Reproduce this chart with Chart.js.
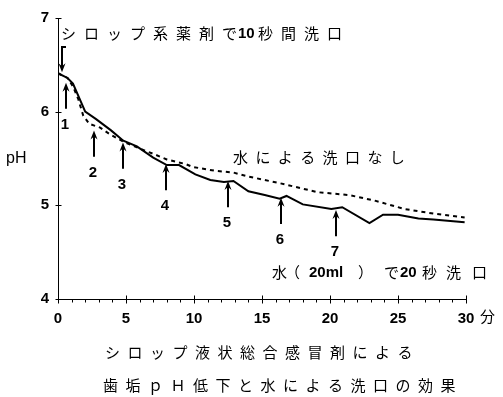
<!DOCTYPE html>
<html>
<head>
<meta charset="utf-8">
<script src="https://cdn.jsdelivr.net/npm/chart.js@4"></script>
<style>
  html, body { margin: 0; padding: 0; background: #fff; }
</style>
</head>
<body>
<canvas id="chart-ph" width="503" height="397"></canvas>
<script>
/*
  ==================================================
  ====================== DATA ======================
  ==================================================
*/

// 水（20ml）で20秒洗口
const rinseMinutes = [0, 0.7, 1.1, 2.0, 2.8, 3.9, 4.8, 5.8, 7.0, 8.0, 8.9, 10.1, 11.2, 12.2, 12.9, 14.0, 15.2, 16.3, 16.8, 18.0, 20.1, 20.9, 22.9, 23.9, 25.0, 26.5, 27.6, 29.9];
const rinsePh = [6.41, 6.36, 6.30, 6.00, 5.92, 5.80, 5.69, 5.63, 5.51, 5.43, 5.43, 5.33, 5.27, 5.25, 5.26, 5.15, 5.11, 5.07, 5.10, 5.01, 4.96, 4.98, 4.81, 4.90, 4.90, 4.86, 4.85, 4.82];

// 水による洗口なし
const noRinseMinutes = [0, 0.7, 1.1, 1.5, 1.85, 2.3, 3.1, 3.8, 4.8, 6.3, 7.0, 8.0, 9.4, 9.9, 11.5, 12.9, 13.9, 16.2, 19.1, 21.4, 23.3, 25.5, 27.7, 29.9];
const noRinsePh = [6.41, 6.36, 6.27, 6.13, 5.96, 5.87, 5.83, 5.76, 5.68, 5.59, 5.55, 5.49, 5.44, 5.41, 5.37, 5.35, 5.31, 5.24, 5.14, 5.11, 5.05, 4.96, 4.91, 4.87];

// 洗口のタイミング（矢印）
const arrowLabels = ['1', '2', '3', '4', '5', '6', '7'];
const arrowMinutes = [0.57, 2.62, 4.76, 7.92, 12.48, 16.38, 20.42];
const arrowTipPh = [6.31, 5.80, 5.67, 5.44, 5.26, 5.08, 4.95];
const arrowLengthPh = 0.28;

// シロップ系薬剤の投与（下向き矢印）
const dosingMinute = 0.32;
const dosingFromPh = 6.69;
const dosingToPh = 6.42;

const xTickValues = [0, 5, 10, 15, 20, 25, 30];
const yTickValues = [4, 5, 6, 7];

/*
  ==================================================
  ===================== HELPERS ====================
  ==================================================
*/

const JP_FONT = '15px "Noto Sans CJK JP", sans-serif';
const NUM_FONT = 'bold 15px "Liberation Sans", Arial, sans-serif';

/** @param {CanvasRenderingContext2D} ctx */
let drawSpaced = (ctx, text, x, y, pitch) => {
  ctx.font = JP_FONT;
  [...text].forEach((ch, i) => ctx.fillText(ch, x + i * pitch, y));
}

/** @param {CanvasRenderingContext2D} ctx */
let drawNum = (ctx, text, x, y) => {
  ctx.font = NUM_FONT;
  ctx.fillText(text, x, y);
}

/** @param {CanvasRenderingContext2D} ctx */
let drawArrowHead = (ctx, x, y, dir) => {
  ctx.beginPath();
  ctx.moveTo(x, y);
  ctx.lineTo(x - 3.5, y + dir * 9);
  ctx.lineTo(x, y + dir * 6);
  ctx.lineTo(x + 3.5, y + dir * 9);
  ctx.closePath();
  ctx.fill();
}

/*
  ==================================================
  ===================== PLUGINS ====================
  ==================================================
*/

const axisTicks = {
  id: 'axisTicks',
  afterDraw(chart) {
    const { ctx, scales: { x, y } } = chart;
    const axisY = Math.round(y.getPixelForValue(4)) + 0.5;
    const axisX = Math.round(x.getPixelForValue(0)) + 0.5;
    ctx.save();
    ctx.strokeStyle = '#000';
    ctx.lineWidth = 1;
    ctx.beginPath();
    for (let m = 0; m <= 30; m++) {
      const px = Math.round(x.getPixelForValue(m)) + 0.5;
      if (m % 5 === 0) {
        ctx.moveTo(px, axisY - 4);
        ctx.lineTo(px, axisY + 4);
      } else {
        ctx.moveTo(px, axisY);
        ctx.lineTo(px, axisY + 3);
      }
    }
    yTickValues.forEach(v => {
      const py = Math.round(y.getPixelForValue(v)) + 0.5;
      ctx.moveTo(axisX - 3, py);
      ctx.lineTo(axisX + 3, py);
    });
    ctx.stroke();
    ctx.restore();
  }
};

const annotations = {
  id: 'annotations',
  afterDraw(chart) {
    const { ctx, scales: { x, y } } = chart;
    ctx.save();
    ctx.fillStyle = '#000';
    ctx.strokeStyle = '#000';
    ctx.lineWidth = 2;

    // 洗口の矢印
    arrowMinutes.forEach((m, i) => {
      const px = Math.round(x.getPixelForValue(m));
      const tip = y.getPixelForValue(arrowTipPh[i]);
      const tail = y.getPixelForValue(arrowTipPh[i] - arrowLengthPh);
      ctx.beginPath();
      ctx.moveTo(px, tip + 4);
      ctx.lineTo(px, tail);
      ctx.stroke();
      drawArrowHead(ctx, px, tip, 1);
      ctx.textAlign = 'center';
      ctx.textBaseline = 'middle';
      drawNum(ctx, arrowLabels[i], px - 1, tail + 16);
    });

    // 投与の矢印
    const dx = Math.round(x.getPixelForValue(dosingMinute));
    const dTop = y.getPixelForValue(dosingFromPh);
    const dTip = y.getPixelForValue(dosingToPh);
    ctx.beginPath();
    ctx.moveTo(dx + 4, dTop);
    ctx.lineTo(dx, dTop);
    ctx.lineTo(dx, dTip - 4);
    ctx.stroke();
    drawArrowHead(ctx, dx, dTip, -1);

    // テキスト
    ctx.textAlign = 'left';
    ctx.textBaseline = 'middle';
    drawSpaced(ctx, 'シロップ系薬剤で', 61, 33, 23);
    drawNum(ctx, '10', 238, 34);
    drawSpaced(ctx, '秒間洗口', 258, 33, 23);

    drawSpaced(ctx, '水による洗口なし', 233, 157, 22.4);

    drawSpaced(ctx, '水（', 272, 272, 13);
    drawNum(ctx, '20ml', 309, 273);
    drawSpaced(ctx, '）', 358, 272, 22);
    drawSpaced(ctx, 'で', 384, 272, 22);
    drawNum(ctx, '20', 400, 273);
    drawSpaced(ctx, '秒', 422, 272, 22);
    drawSpaced(ctx, '洗口', 446, 272, 26);

    drawSpaced(ctx, '分', 480, 316, 22);

    ctx.font = '16px "Liberation Sans", Arial, sans-serif';
    ctx.fillText('pH', 6, 159);

    drawSpaced(ctx, 'シロップ液状総合感冒剤による', 105, 352, 22.5);
    drawSpaced(ctx, '歯垢ｐＨ低下と水による洗口の効果', 103, 385, 22.5);

    ctx.restore();
  }
};

/*
  ==================================================
  ===================== CHART ======================
  ==================================================
*/

/** @type {CanvasRenderingContext2D} */
let canvas = document.getElementById('chart-ph').getContext('2d');

let chart = new Chart(canvas, {
  type: 'line',
  data: {
    datasets: [{
      label: '水（20ml）で20秒洗口',
      data: rinseMinutes.map((m, i) => ({ x: m, y: rinsePh[i] })),
      borderColor: '#000',
      borderWidth: 2,
      pointRadius: 0,
      tension: 0
    }, {
      label: '水による洗口なし',
      data: noRinseMinutes.map((m, i) => ({ x: m, y: noRinsePh[i] })),
      borderColor: '#000',
      borderWidth: 2,
      borderDash: [4, 4],
      pointRadius: 0,
      tension: 0
    }]
  },
  options: {
    responsive: false,
    animation: false,
    devicePixelRatio: 1,
    layout: { padding: { top: 10, right: 37, bottom: 0, left: 0 } },
    plugins: {
      legend: { display: false },
      tooltip: { enabled: false }
    },
    scales: {
      x: {
        type: 'linear',
        min: 0,
        max: 30,
        afterBuildTicks: s => { s.ticks = xTickValues.map(v => ({ value: v })); },
        afterFit: s => { s.height = 98; },
        grid: { display: true, drawOnChartArea: false, drawTicks: false },
        border: { display: true, color: '#000', width: 1 },
        ticks: {
          color: '#000',
          padding: 11,
          maxRotation: 0,
          autoSkip: false,
          font: { family: '"Liberation Sans", Arial, sans-serif', size: 15, weight: 'bold' }
        }
      },
      y: {
        min: 4,
        max: 7,
        afterBuildTicks: s => { s.ticks = yTickValues.map(v => ({ value: v })); },
        afterFit: s => { s.width = 58; },
        grid: { display: true, drawOnChartArea: false, drawTicks: false },
        border: { display: true, color: '#000', width: 1 },
        ticks: {
          color: '#000',
          padding: 9,
          font: { family: '"Liberation Sans", Arial, sans-serif', size: 15, weight: 'bold' }
        }
      }
    }
  },
  plugins: [axisTicks, annotations]
});
</script>
</body>
</html>
